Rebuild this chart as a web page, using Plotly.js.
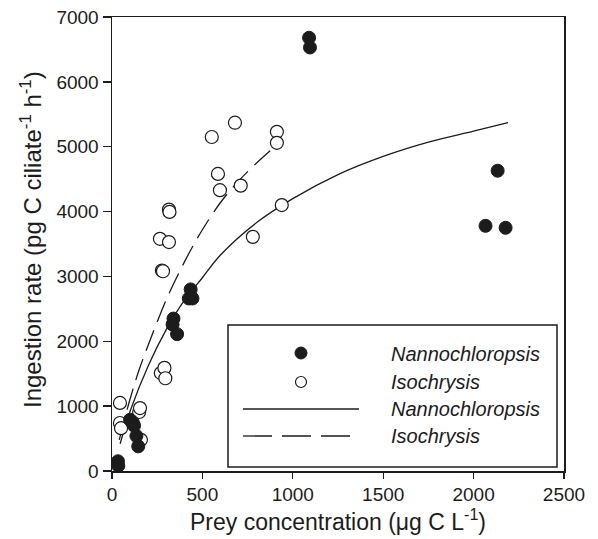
<!DOCTYPE html>
<html>
<head>
<meta charset="utf-8">
<script src="https://cdn.plot.ly/plotly-3.0.1.min.js"></script>
<style>html,body{margin:0;padding:0;background:#fff;}#chart{width:598px;height:539px;}</style>
</head>
<body>
<div id="chart"></div>
<script>
// Observed data: Nannochloropsis (filled circles)
var nannoX = [33, 35, 100, 115, 122, 135, 145, 335, 340, 360, 425, 435, 445, 1090, 1095, 2066, 2133, 2177];
var nannoY = [150, 80, 790, 750, 700, 540, 380, 2260, 2350, 2110, 2660, 2800, 2660, 6680, 6530, 3780, 4630, 3750];

// Observed data: Isochrysis (open circles)
var isoX = [44, 44, 50, 150, 155, 160, 270, 290, 295, 276, 282, 265, 315, 315, 318, 552, 680, 912, 912, 586, 597, 712, 779, 939];
var isoY = [1050, 740, 660, 910, 970, 480, 1510, 1590, 1430, 3090, 3080, 3580, 3530, 4030, 3995, 5150, 5370, 5230, 5060, 4580, 4330, 4400, 3610, 4100];

// Fitted curves
var fitNannoX = [45, 100, 200, 300, 400, 500, 600, 800, 1000, 1250, 1500, 1750, 2000, 2190];
var fitNannoY = [420, 920, 1620, 2180, 2630, 2980, 3330, 3830, 4200, 4570, 4850, 5070, 5240, 5370];
var fitIsoX = [40, 100, 150, 200, 250, 300, 350, 400, 450, 500, 600, 700, 800, 912];
var fitIsoY = [480, 1110, 1560, 1940, 2300, 2640, 2940, 3220, 3480, 3720, 4140, 4470, 4750, 5030];

// Legend labels and axis titles
var legendLabels = ["Nannochloropsis", "Isochrysis", "Nannochloropsis", "Isochrysis"];
var xTitle = "Prey concentration (μg C L<sup>-1</sup>)";
var yTitle = "Ingestion rate (pg C ciliate<sup>-1</sup> h<sup>-1</sup>)";

var ink = "#1c1c1c";
var fontFam = "Liberation Sans, Arial, Helvetica, sans-serif";

var traces = [
  {x: fitNannoX, y: fitNannoY, mode: "lines", line: {color: ink, width: 1.3, shape: "spline"}, showlegend: false, hoverinfo: "skip"},
  {x: fitIsoX, y: fitIsoY, mode: "lines", line: {color: ink, width: 1.3, dash: "22px,9px", shape: "spline"}, showlegend: false, hoverinfo: "skip"},
  {x: isoX, y: isoY, mode: "markers", marker: {size: 13, color: "#ffffff", line: {color: ink, width: 1.2}}, showlegend: false},
  {x: nannoX, y: nannoY, mode: "markers", marker: {size: 13, color: ink, line: {color: ink, width: 1}}, showlegend: false}
];

// plot area in pixels: x 112..564, y 17..471
function px(p) { return (p - 112) / 452; }
function py(p) { return (471 - p) / 454; }

var shapes = [
  {type: "rect", xref: "paper", yref: "paper", x0: px(228), x1: px(557), y0: py(325), y1: py(467), line: {color: ink, width: 1.5}, fillcolor: "#ffffff", layer: "below"},
  {type: "circle", xref: "paper", yref: "paper", xsizemode: "pixel", ysizemode: "pixel", xanchor: px(301), yanchor: py(353), x0: -6, x1: 6, y0: -6, y1: 6, fillcolor: ink, line: {color: ink, width: 1}},
  {type: "circle", xref: "paper", yref: "paper", xsizemode: "pixel", ysizemode: "pixel", xanchor: px(301), yanchor: py(382), x0: -5.5, x1: 5.5, y0: -5.5, y1: 5.5, fillcolor: "#ffffff", line: {color: ink, width: 1.2}},
  {type: "line", xref: "paper", yref: "paper", x0: px(243), x1: px(359), y0: py(409), y1: py(409), line: {color: ink, width: 1.3}},
  {type: "line", xref: "paper", yref: "paper", x0: px(243), x1: px(350), y0: py(436), y1: py(436), line: {color: ink, width: 1.3, dash: "29px,10px"}}
];

var rowsY = [354, 382, 409, 436];
var annotations = legendLabels.map(function (t, i) {
  return {xref: "paper", yref: "paper", x: px(389), y: py(rowsY[i]), xanchor: "left", yanchor: "middle", text: "<i>" + t + "</i>", showarrow: false, font: {family: fontFam, size: 20, color: ink}};
});
annotations.push({xref: "paper", yref: "paper", x: px(31), y: py(240), xanchor: "center", yanchor: "middle", textangle: -90, text: yTitle, showarrow: false, font: {family: fontFam, size: 24, color: ink}});

var layout = {
  width: 598, height: 539,
  margin: {l: 112, r: 34, t: 17, b: 68},
  paper_bgcolor: "#ffffff", plot_bgcolor: "#ffffff",
  font: {family: fontFam, size: 19, color: ink},
  showlegend: false,
  xaxis: {
    range: [0, 2500], tickvals: [0, 500, 1000, 1500, 2000, 2500],
    ticks: "outside", ticklen: 6, tickwidth: 1.3, tickcolor: ink,
    showline: true, linecolor: ink, linewidth: 1.5, mirror: true,
    showgrid: false, zeroline: false,
    tickfont: {family: fontFam, size: 19, color: ink},
    title: {text: xTitle, font: {family: fontFam, size: 23, color: ink}, standoff: 3}
  },
  yaxis: {
    range: [0, 7000], tickvals: [0, 1000, 2000, 3000, 4000, 5000, 6000, 7000],
    ticks: "outside", ticklen: 8, tickwidth: 1.3, tickcolor: ink,
    showline: true, linecolor: ink, linewidth: 1.5, mirror: true,
    showgrid: false, zeroline: false,
    tickfont: {family: fontFam, size: 19, color: ink}
  },
  shapes: shapes,
  annotations: annotations
};

Plotly.newPlot("chart", traces, layout, {staticPlot: true, displayModeBar: false});
</script>
</body>
</html>
